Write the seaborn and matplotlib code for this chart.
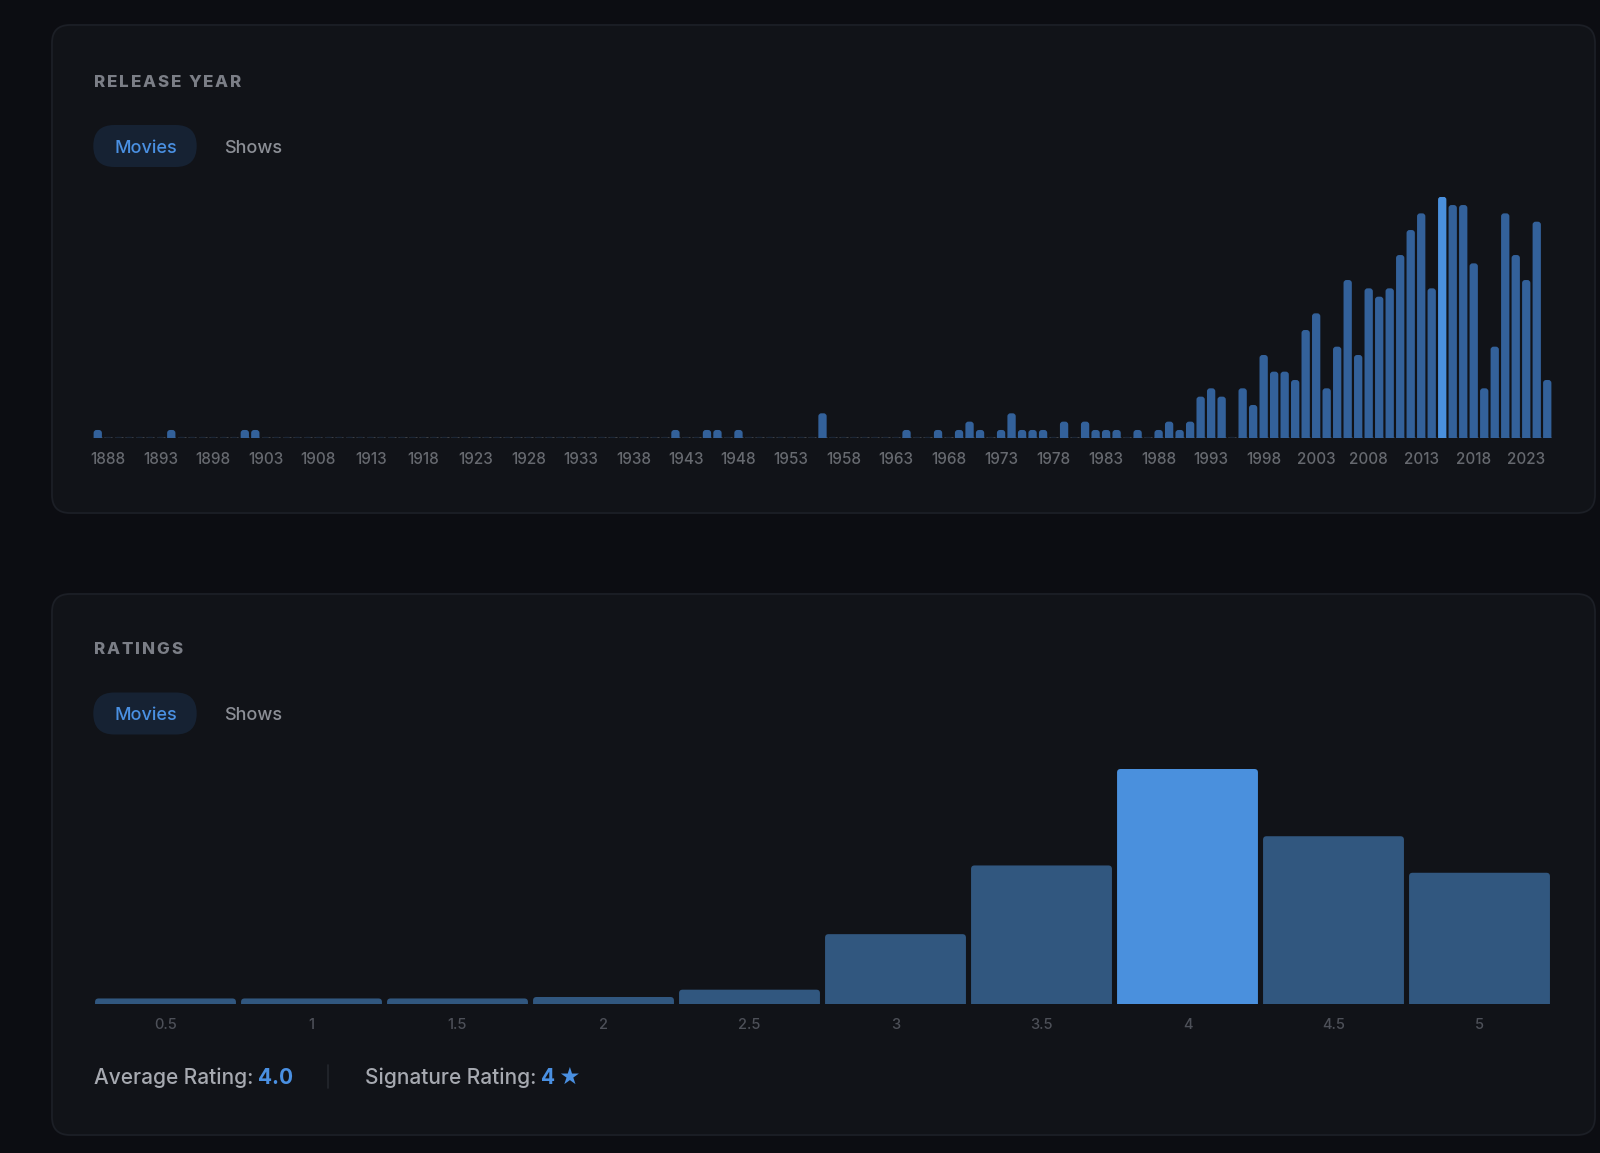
import numpy as np
import pandas as pd
import matplotlib
matplotlib.use("Agg")
import matplotlib.pyplot as plt
import seaborn as sns
from matplotlib.patches import FancyBboxPatch

# ---------------- data ----------------
release_first_year = 1887
release_counts = (
    [1, 0, 0] +                                 # 1887-1889
    [0, 0, 0, 0, 1, 0, 0, 0, 0, 0] +            # 1890s
    [0, 1, 1, 0, 0, 0, 0, 0, 0, 0] +            # 1900s
    [0, 0, 0, 0, 0, 0, 0, 0, 0, 0] +            # 1910s
    [0, 0, 0, 0, 0, 0, 0, 0, 0, 0] +            # 1920s
    [0, 0, 0, 0, 0, 0, 0, 0, 0, 0] +            # 1930s
    [0, 0, 1, 0, 0, 1, 1, 0, 1, 0] +            # 1940s
    [0, 0, 0, 0, 0, 0, 3, 0, 0, 0] +            # 1950s
    [0, 0, 0, 0, 1, 0, 0, 1, 0, 1] +            # 1960s
    [2, 1, 0, 1, 3, 1, 1, 1, 0, 2] +            # 1970s
    [0, 2, 1, 1, 1, 0, 1, 0, 1, 2] +            # 1980s
    [1, 2, 5, 6, 5, 0, 6, 4, 10, 8] +           # 1990s
    [8, 7, 13, 15, 6, 11, 19, 10, 18, 17] +     # 2000s
    [18, 22, 25, 27, 18, 29, 28, 28, 21, 6] +   # 2010s
    [11, 27, 22, 19, 26, 7]                     # 2020-2025
)
release_years = [release_first_year + i for i in range(len(release_counts))]
release_tick_years = [1888, 1893, 1898, 1903, 1908, 1913, 1918, 1923, 1928, 1933,
                      1938, 1943, 1948, 1953, 1958, 1963, 1968, 1973, 1978, 1983,
                      1988, 1993, 1998, 2003, 2008, 2013, 2018, 2023]

rating_labels = ["0.5", "1", "1.5", "2", "2.5", "3", "3.5", "4", "4.5", "5"]
rating_counts = [4, 4, 4, 5, 10, 48, 95, 161, 115, 90]

average_rating = "4.0"
signature_rating = "4"

# ---------------- style ----------------
PAGE_BG = "#0c0d12"
CARD_BG = "#111318"
CARD_EDGE = "#1c1f26"
BAR_YEAR = "#33619a"
BAR_RATE = "#31577f"
BAR_PEAK = "#4a90dd"
STUB = "#1b2636"
BLUE_TXT = "#4a90e2"

sns.set_theme(style="dark")
plt.rcParams["font.family"] = ["Inter", "DejaVu Sans"]

W, H = 1600, 1153
fig = plt.figure(figsize=(W / 100, H / 100), dpi=100, facecolor=PAGE_BG)
renderer = fig.canvas.get_renderer()

bg = fig.add_axes([0, 0, 1, 1], zorder=0)
bg.set_xlim(0, W)
bg.set_ylim(H, 0)
bg.axis("off")
bg.set_facecolor(PAGE_BG)

# cards
for (x0, y0, x1, y1) in [(52, 25, 1595, 513), (52, 594, 1595, 1135)]:
    bg.add_patch(FancyBboxPatch((x0, y0), x1 - x0, y1 - y0,
                                boxstyle="round,pad=0,rounding_size=18",
                                fc=CARD_BG, ec=CARD_EDGE, lw=1.3))


def spaced_text(x, y, s, spacing, **kw):
    """Draw letter-spaced text starting at x (pixel coords of bg)."""
    probe = bg.text(0, 0, "AA", **kw)
    w_aa = probe.get_window_extent(renderer).width
    probe.remove()
    probe = bg.text(0, 0, "A A", **kw)
    space_w = probe.get_window_extent(renderer).width - w_aa
    probe.remove()
    for ch in s:
        if ch == " ":
            x += space_w + spacing
            continue
        t = bg.text(x, y, ch, ha="left", va="baseline", **kw)
        x += t.get_window_extent(renderer).width + spacing


def seq_text(x, y, parts, size):
    for s, color, weight, gap in parts:
        t = bg.text(x, y, s, ha="left", va="baseline", color=color,
                    fontsize=size, fontweight=weight,
                    family=["Inter", "DejaVu Sans"])
        x += t.get_window_extent(renderer).width + gap


def header(y_title, y_pill, title):
    # y_title / y_pill are visual centres of capital letters
    spaced_text(94, y_title + 6.2, title, 1.8, color="#7b7e86", fontsize=12.2,
                fontweight="heavy")
    bg.add_patch(FancyBboxPatch((93.3, y_pill - 21), 103.4, 42,
                                boxstyle="round,pad=0,rounding_size=21",
                                fc="#162233", ec="none"))
    bg.text(145.4, y_pill + 6.6, "Movies", ha="center", va="baseline",
            color=BLUE_TXT, fontsize=13, fontweight="medium")
    bg.text(253.6, y_pill + 6.6, "Shows", ha="center", va="baseline",
            color="#8c8f96", fontsize=13, fontweight="medium")


header(80.6, 146.0, "RELEASE YEAR")
header(648, 713.5, "RATINGS")


def round_bars(ax, radius_px, ax_w_px, ax_h_px):
    x0, x1 = ax.get_xlim()
    y0, y1 = ax.get_ylim()
    rx = radius_px * (x1 - x0) / ax_w_px
    ry = radius_px * (y1 - y0) / ax_h_px
    for p in list(ax.patches):
        h = p.get_height()
        if h <= 0:
            continue
        fb = FancyBboxPatch((p.get_x(), -ry), p.get_width(), h + ry,
                            boxstyle=f"round,pad=0,rounding_size={rx}",
                            mutation_aspect=ry / rx,
                            fc=p.get_facecolor(), ec="none", zorder=3)
        ax.add_patch(fb)
        p.set_visible(False)


def style_axis(ax):
    ax.set_facecolor("none")
    for sp in ax.spines.values():
        sp.set_visible(False)
    ax.set_yticks([])
    ax.set_xlabel("")
    ax.set_ylabel("")
    ax.grid(False)


# ---------------- release year chart ----------------
AX_L, AX_R = 92.5, 1552.5
ry_base, ry_top = 438.3, 196.7
ax1 = fig.add_axes([AX_L / W, (H - ry_base) / H, (AX_R - AX_L) / W,
                    (ry_base - ry_top) / H], zorder=2)
df_year = pd.DataFrame({
    "year": [str(y) for y in release_years],
    "count": release_counts,
})
peak_year = max(release_counts)
df_year["kind"] = ["peak" if c == peak_year else "normal" for c in release_counts]
df_year["stub"] = [0.18 if c == 0 else 0 for c in release_counts]

sns.barplot(data=df_year, x="year", y="stub", color=STUB, width=0.79,
            saturation=1, ax=ax1)
sns.barplot(data=df_year, x="year", y="count", hue="kind",
            palette={"normal": BAR_YEAR, "peak": BAR_PEAK}, dodge=False,
            width=0.79, saturation=1, legend=False, ax=ax1)
ax1.set_xlim(-0.5, len(release_years) - 0.5)
ax1.set_ylim(0, peak_year)
style_axis(ax1)
ax1.set_xticks([release_years.index(y) for y in release_tick_years])
ax1.set_xticklabels([str(y) for y in release_tick_years])
ax1.tick_params(axis="x", length=0, pad=10.0, labelsize=11, labelcolor="#66696f")
for lab in ax1.get_xticklabels():
    lab.set_fontweight("medium")
round_bars(ax1, 3.0, AX_R - AX_L, ry_base - ry_top)

# ---------------- ratings chart ----------------
rt_base, rt_top = 1004.3, 769.0
ax2 = fig.add_axes([AX_L / W, (H - rt_base) / H, (AX_R - AX_L) / W,
                    (rt_base - rt_top) / H], zorder=2)
peak_rate = max(rating_counts)
df_rate = pd.DataFrame({
    "rating": rating_labels,
    "count": rating_counts,
    "kind": ["peak" if c == peak_rate else "normal" for c in rating_counts],
})
sns.barplot(data=df_rate, x="rating", y="count", hue="kind",
            palette={"normal": BAR_RATE, "peak": BAR_PEAK}, dodge=False,
            width=0.965, saturation=1, legend=False, ax=ax2)
ax2.set_xlim(-0.5, len(rating_labels) - 0.5)
ax2.set_ylim(0, peak_rate)
style_axis(ax2)
ax2.tick_params(axis="x", length=0, pad=9.8, labelsize=10.5, labelcolor="#4d5058")
for lab in ax2.get_xticklabels():
    lab.set_fontweight("medium")
round_bars(ax2, 3.5, AX_R - AX_L, rt_base - rt_top)

# ---------------- footer ----------------
FOOT_BASE = 1075.5 + 8.0
seq_text(94, FOOT_BASE, [("Average Rating:", "#a6a9b0", "medium", 4.5),
                         (average_rating, BLUE_TXT, "bold", 0)], 15.0)
bg.plot([327.5, 327.5], [1065, 1088], color="#24272d", lw=1.2)
seq_text(365, FOOT_BASE, [("Signature Rating:", "#a6a9b0", "medium", 4.5),
                          (signature_rating, BLUE_TXT, "bold", 3.5),
                          ("\u2605", BLUE_TXT, "bold", 0)], 15.0)

fig.savefig("out.png", dpi=100, facecolor=PAGE_BG)
